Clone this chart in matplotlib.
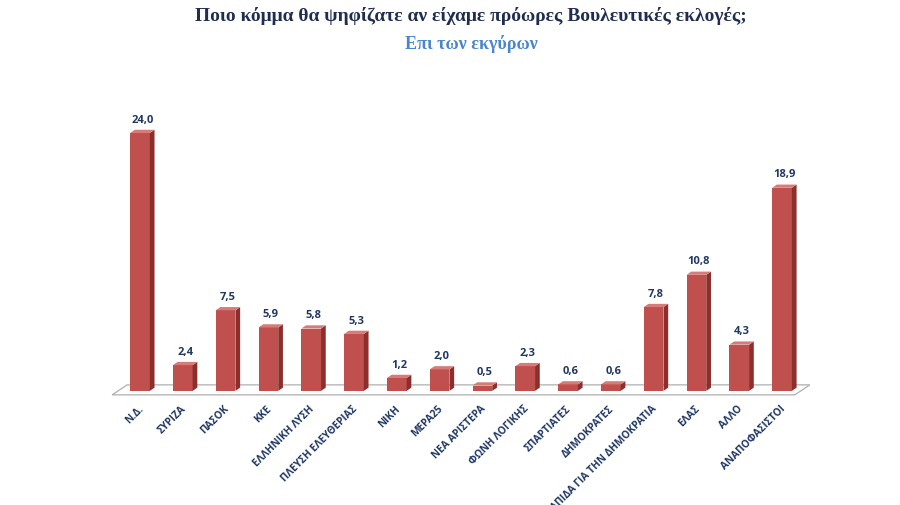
import matplotlib.pyplot as plt
import numpy as np
from matplotlib.collections import PolyCollection
from matplotlib.patches import Polygon

# Data
parties = ['Ν.Δ.', 'ΣΥΡΙΖΑ', 'ΠΑΣΟΚ', 'ΚΚΕ', 'ΕΛΛΗΝΙΚΗ ΛΥΣΗ', 'ΠΛΕΥΣΗ ΕΛΕΥΘΕΡΙΑΣ',
           'ΝΙΚΗ', 'ΜΕΡΑ25', 'ΝΕΑ ΑΡΙΣΤΕΡΑ', 'ΦΩΝΗ ΛΟΓΙΚΗΣ', 'ΣΠΑΡΤΙΑΤΕΣ',
           'ΔΗΜΟΚΡΑΤΕΣ', 'ΕΛΠΙΔΑ ΓΙΑ ΤΗΝ ΔΗΜΟΚΡΑΤΙΑ', 'ΕΛΑΣ', 'ΑΛΛΟ', 'ΑΝΑΠΟΦΑΣΙΣΤΟΙ']
values = [24.0, 2.4, 7.5, 5.9, 5.8, 5.3, 1.2, 2.0, 0.5, 2.3, 0.6, 0.6, 7.8, 10.8, 4.3, 18.9]

title = 'Ποιο κόμμα θα ψηφίζατε αν είχαμε πρόωρες Βουλευτικές εκλογές;'
subtitle = 'Επι των εκγύρων'

front = '#c0504d'
side = '#8c2f2c'
top = '#d77b78'
navy = '#1f3864'

fig = plt.figure(figsize=(9, 5.05), dpi=100)
ax = fig.add_axes([110 / 900, 98 / 505, 702 / 900, 295.5 / 505])

x = np.arange(len(values))
w = 0.46
dx, dy = 0.11, 0.3

# floor
floor = Polygon([(-0.65, -0.37), (15.3, -0.37), (15.65, 0.56), (-0.3, 0.56)],
                closed=True, facecolor='white', edgecolor='#b0b0b0', lw=0.9, zorder=1)
ax.add_patch(floor)

ax.bar(x, values, width=w, color=front, zorder=3)
sides = [[(xi + w / 2, 0), (xi + w / 2 + dx, dy), (xi + w / 2 + dx, v + dy), (xi + w / 2, v)]
         for xi, v in zip(x, values)]
tops = [[(xi - w / 2, v), (xi - w / 2 + dx, v + dy), (xi + w / 2 + dx, v + dy), (xi + w / 2, v)]
        for xi, v in zip(x, values)]
ax.add_collection(PolyCollection(sides, facecolors=side, edgecolors='none', zorder=3))
ax.add_collection(PolyCollection(tops, facecolors=top, edgecolors='none', zorder=3))

for xi, v in zip(x, values):
    ax.annotate(f'{v:.1f}'.replace('.', ','), (xi + dx / 2, v + dy), xytext=(0, 3),
                textcoords='offset points', ha='center', va='bottom',
                fontsize=8, fontweight='bold', color=navy, family=['Open Sans', 'DejaVu Sans'])

for xi, name in zip(x, parties):
    ax.text(xi - 0.05, -1.2, name, rotation=45, rotation_mode='anchor', ha='right', va='top',
            fontsize=7.3, fontweight='bold', color=navy, family=['Open Sans', 'DejaVu Sans'])

ax.set_xlim(-0.7, 15.7)
ax.set_ylim(-1.5, 26)
ax.axis('off')

fig.text(471 / 900, 1 - 16 / 505, title, ha='center', va='center', fontsize=14,
         fontweight='bold', color='#1f2d50', family=['Liberation Serif', 'DejaVu Serif'])
fig.text(471 / 900, 1 - 44 / 505, subtitle, ha='center', va='center', fontsize=13,
         fontweight='bold', color='#4a86c8', family=['Liberation Serif', 'DejaVu Serif'])

fig.savefig('out.png', dpi=100, facecolor='white')
